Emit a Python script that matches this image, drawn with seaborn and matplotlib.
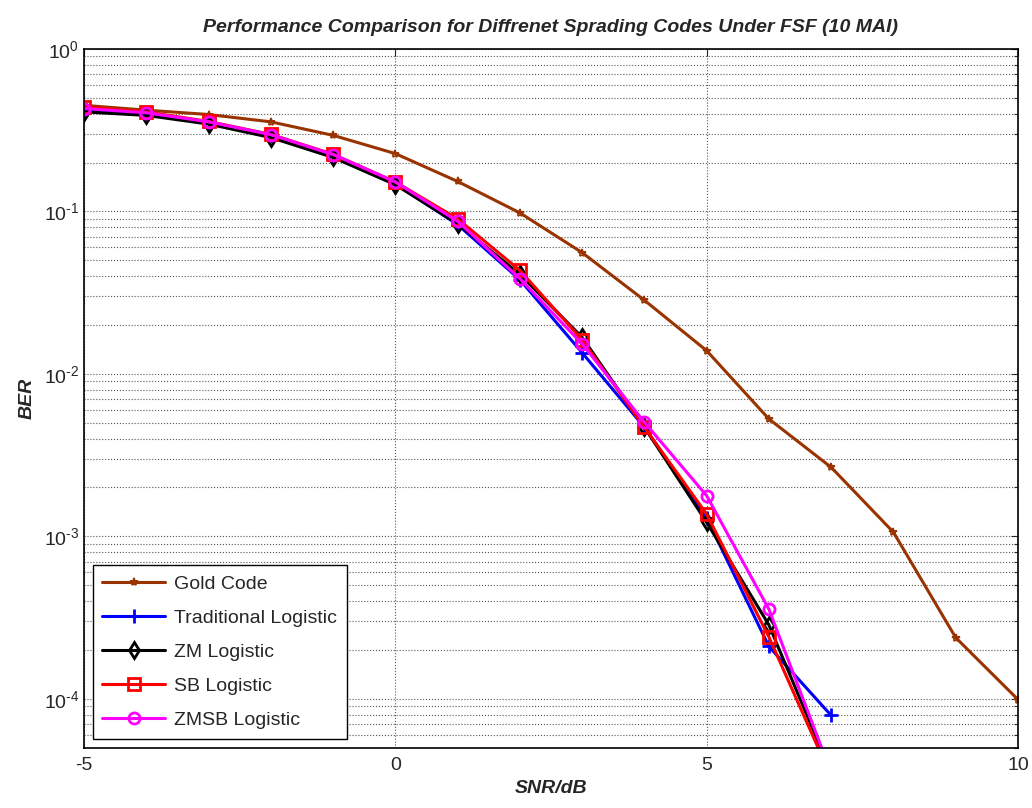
import numpy as np
import pandas as pd
import seaborn as sns
import matplotlib
matplotlib.use("Agg")
import matplotlib.pyplot as plt
from matplotlib.ticker import LogLocator, FixedLocator, NullFormatter, FuncFormatter

snr = [-5, -4, -3, -2, -1, 0, 1, 2, 3, 4, 5, 6, 7, 8, 9, 10]
gold = [0.45, 0.42, 0.395, 0.356, 0.294, 0.227, 0.153, 0.098, 0.0558, 0.0284,
        0.0139, 0.00528, 0.00266, 0.00106, 2.38e-4, 9.9e-5]

snr2 = [-5, -4, -3, -2, -1, 0, 1, 2, 3, 4, 5, 6, 7]
trad = [0.42, 0.40, 0.352, 0.292, 0.222, 0.148, 0.083, 0.038, 0.0135, 0.0047, 0.0013, 2.1e-4, 7.9e-5]
zm = [0.41, 0.39, 0.345, 0.285, 0.215, 0.146, 0.084, 0.041, 0.0168, 0.0047, 0.00122, 2.85e-4, 3.5e-5]
sb = [0.44, 0.41, 0.358, 0.298, 0.225, 0.152, 0.090, 0.0434, 0.0162, 0.00469, 0.00137, 2.4e-4, 3.3e-5]
zmsb = [0.43, 0.405, 0.356, 0.297, 0.224, 0.152, 0.087, 0.0386, 0.0153, 0.00504, 0.00178, 3.56e-4, 3.5e-5]

sns.set_style("white")
plt.rcParams['font.family'] = ['Liberation Sans', 'DejaVu Sans']
plt.rcParams['mathtext.fontset'] = 'custom'
plt.rcParams['mathtext.rm'] = 'Liberation Sans'
plt.rcParams['mathtext.it'] = 'Liberation Sans:italic'
plt.rcParams['axes.unicode_minus'] = False

fig = plt.figure(figsize=(10.32, 8.08), dpi=100)
ax = fig.add_axes([0.0814, 0.0746, 0.9050, 0.8648])
ax.set_yscale('log')

series = [
    ("Gold Code", snr, gold, "#993300", "*", 6, 1.2),
    ("Traditional Logistic", snr2, trad, "#0000ff", "+", 10, 2),
    ("ZM Logistic", snr2, zm, "#000000", "d", 8, 2),
    ("SB Logistic", snr2, sb, "#ff0000", "s", 8, 2),
    ("ZMSB Logistic", snr2, zmsb, "#ff00ff", "o", 8, 2),
]
for name, xs, ys, col, mk, ms, mew in series:
    sns.lineplot(x=xs, y=ys, ax=ax, color=col, marker=mk, markersize=ms,
                 markerfacecolor='none', markeredgecolor=col, markeredgewidth=mew,
                 linewidth=2.2, label=name)

ax.set_xlim(-5, 10)
ax.set_ylim(5e-5, 1)
ax.xaxis.set_major_locator(FixedLocator([-5, 0, 5, 10]))
ax.yaxis.set_major_locator(LogLocator(base=10, numticks=10))
ax.yaxis.set_major_formatter(FuncFormatter(
    lambda v, p: r'$10^{\text{%d}}$' % int(round(np.log10(v)))))
ax.yaxis.set_minor_locator(LogLocator(base=10, subs=np.arange(2, 10), numticks=20))
ax.yaxis.set_minor_formatter(NullFormatter())
ax.grid(True, which='major', axis='both', linestyle=':', color='#555555', linewidth=0.8)
ax.grid(True, which='minor', axis='y', linestyle=':', color='#555555', linewidth=0.8)
ax.tick_params(which='both', direction='in', top=True, right=True, labelsize=14)
ax.tick_params(axis='x', pad=7)
ax.tick_params(which='major', length=5, width=0.8)
ax.tick_params(which='minor', length=3, width=0.8)
for s in ax.spines.values():
    s.set_linewidth(1.2)
    s.set_color('black')

ax.set_title("Performance Comparison for Diffrenet Sprading Codes Under FSF (10 MAI)",
             fontsize=14, fontweight='bold', fontstyle='italic', pad=12)
ax.set_xlabel("SNR/dB", fontsize=14, fontweight='bold', fontstyle='italic', labelpad=4)
ax.set_ylabel("BER", fontsize=14, fontweight='bold', fontstyle='italic', labelpad=6)

leg = ax.legend(loc='lower left', fontsize=14, frameon=True, fancybox=False,
                edgecolor='black', framealpha=1, handlelength=3.2, borderpad=0.5,
                labelspacing=0.85, borderaxespad=0.45, handletextpad=0.5)
leg.get_frame().set_linewidth(1.0)

fig.savefig("out.png", dpi=100)
